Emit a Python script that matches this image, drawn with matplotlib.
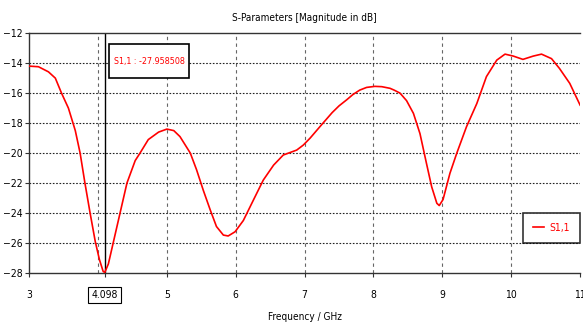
import numpy as np
import matplotlib.pyplot as plt
from matplotlib.patches import Rectangle

# Frecuencia (GHz) y magnitud de S1,1 (dB)
freq = [3.0, 3.135, 3.28, 3.38, 3.47, 3.57, 3.67, 3.74, 3.81, 3.885, 3.96, 4.02, 4.075, 4.098,
        4.15, 4.22, 4.32, 4.42, 4.54, 4.61, 4.73, 4.88, 5.0, 5.1, 5.19, 5.34, 5.43, 5.53,
        5.63, 5.72, 5.82, 5.89, 5.99, 6.11, 6.26, 6.40, 6.55, 6.69, 6.885, 6.98, 7.08, 7.22,
        7.4, 7.5, 7.61, 7.7, 7.8, 7.9, 8.02, 8.12, 8.24, 8.3, 8.385, 8.48, 8.58, 8.675,
        8.77, 8.845, 8.92, 8.955, 9.01, 9.11, 9.21, 9.35, 9.50, 9.64, 9.79, 9.91, 10.03, 10.17,
        10.32, 10.44, 10.585, 10.70, 10.85, 11.0]
s11 = [-14.2, -14.24, -14.58, -15.0, -16.0, -17.0, -18.5, -20.0, -22.0, -24.0, -25.9, -27.1, -27.9, -27.96,
       -27.4, -26.0, -24.0, -22.0, -20.5, -20.0, -19.1, -18.6, -18.4, -18.5, -18.9, -20.0, -21.1, -22.5,
       -23.8, -24.9, -25.47, -25.53, -25.25, -24.5, -23.1, -21.8, -20.8, -20.13, -19.8, -19.47, -19.0, -18.25,
       -17.3, -16.85, -16.45, -16.1, -15.8, -15.62, -15.55, -15.57, -15.68, -15.8, -16.0, -16.5, -17.35, -18.7,
       -20.7, -22.25, -23.35, -23.5, -23.1, -21.35, -20.0, -18.25, -16.7, -14.9, -13.8, -13.4, -13.53, -13.75,
       -13.53, -13.4, -13.7, -14.35, -15.35, -16.8]

marca_f = 4.098
marca_v = -27.958508
xticks = [3, 4.098, 5, 6, 7, 8, 9, 10, 11]
xlabels = ["3", "4.098", "5", "6", "7", "8", "9", "10", "11"]
yticks = [-28, -26, -24, -22, -20, -18, -16, -14, -12]

plt.rcParams['font.family'] = ['DejaVu Sans']
plt.rcParams['font.stretch'] = 'condensed'
plt.rcParams['font.size'] = 7.5

fig = plt.figure(figsize=(5.83, 3.25), dpi=100)
ax = fig.add_axes([0.05, 0.16, 0.945, 0.738])

#Rejilla: verticales rayadas, horizontales punteadas
for x in [4, 5, 6, 7, 8, 9, 10]:
    ax.axvline(x, color="#666666", linestyle=(0, (3, 3)), linewidth=0.8, zorder=1)
for y in yticks[1:-1]:
    ax.axhline(y, color="#222222", linestyle=(0, (1.5, 1.5)), linewidth=0.8, zorder=1)

ax.plot(freq, s11, color="red", linewidth=1.2, label="S1,1", zorder=3)
ax.axvline(marca_f, color="black", linewidth=1.0, zorder=2)

ax.set_xlim(3, 11)
ax.set_ylim(-28, -12)
ax.set_xticks(xticks)
ax.set_xticklabels(xlabels)
ax.set_yticks(yticks)
ax.tick_params(length=3, width=0.8, color="#333333", labelsize=7.5)
ax.tick_params(axis="y", pad=2)
ax.tick_params(axis="x", pad=9)
ax.get_xticklabels()[1].set_bbox(dict(boxstyle="square,pad=0.3", fc="white", ec="black", lw=0.8))

for s in ax.spines.values():
    s.set_color("#333333")
    s.set_linewidth(1.0)
ax.spines["right"].set_visible(False)

#Cuadro del marcador
ax.add_patch(Rectangle((0.145, 0.8125), 0.146, 0.142, transform=ax.transAxes,
                       fc="white", ec="black", lw=1.2, zorder=5))
ax.text(0.218, 0.883, "S1,1 : %.6f" % marca_v, color="red", fontsize=6.4,
        va="center", ha="center", transform=ax.transAxes, zorder=6)

leg = ax.legend(loc="lower right", bbox_to_anchor=(1.0, 0.125), fontsize=7.5, frameon=True,
                fancybox=False, handlelength=1.1, handletextpad=0.5, borderpad=0.95,
                borderaxespad=0.0, labelcolor="red")
leg.get_frame().set_edgecolor("black")
leg.get_frame().set_linewidth(1.2)

ax.set_title("S-Parameters [Magnitude in dB]", fontsize=7.2, pad=9)
ax.set_xlabel("Frequency / GHz", fontsize=7.2, labelpad=9)

fig.savefig("out.png", dpi=100)
